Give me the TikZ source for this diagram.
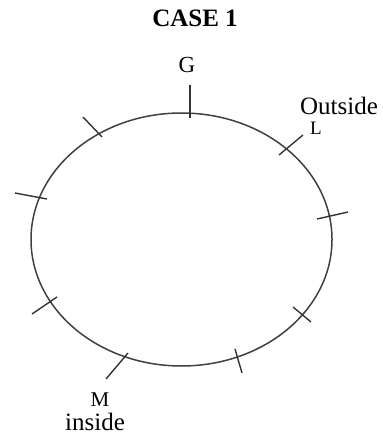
\documentclass[tikz,border=0pt]{standalone}
\usepackage{fontspec}
\setmainfont{Liberation Serif}
\begin{document}
\begin{tikzpicture}[x=1pt,y=-1pt,
  ring/.style={draw=black!75,line width=1.5pt},
  tick/.style={draw=black!80,line width=1.4pt},
  lbl/.style={inner sep=0pt,anchor=base,text=black},
  big/.style={font=\fontsize{25}{28}\selectfont},
  mid/.style={font=\fontsize{23}{25}\selectfont},
  small/.style={font=\fontsize{19}{21}\selectfont}]
\useasboundingbox (0,0) rectangle (382,435);
\draw[ring] (181.5,239.5) ellipse [x radius=150.5, y radius=126.5];
% ticks
\coordinate (g1) at (190,85);   \coordinate (g2) at (190,118);
\coordinate (a1) at (83,117);   \coordinate (a2) at (102,137);
\coordinate (l1) at (303,135);  \coordinate (l2) at (279,155);
\coordinate (b1) at (15,193);   \coordinate (b2) at (47,199);
\coordinate (r1) at (317,219);  \coordinate (r2) at (348,212);
\coordinate (c1) at (32,314);   \coordinate (c2) at (57,297);
\coordinate (m1) at (106,379);  \coordinate (m2) at (128,353);
\coordinate (d1) at (235,349);  \coordinate (d2) at (242,373);
\coordinate (e1) at (293,307);  \coordinate (e2) at (311,322);
\foreach \p in {g,a,l,b,r,c,m,d,e} \draw[tick] (\p1) -- (\p2);
% labels
\node[lbl,big] (title) at (195,27) {\bfseries CASE 1};
\node[lbl,mid] (G) at (187,73) {G};
\node[lbl,big] (out) at (339,115) {Outside};
\node[lbl,small] (L) at (316,135) {L};
\node[lbl,font=\fontsize{21}{23}\selectfont] (M) at (100,406) {M};
\node[lbl,big] (in) at (95,430) {inside};
\end{tikzpicture}
\end{document}
